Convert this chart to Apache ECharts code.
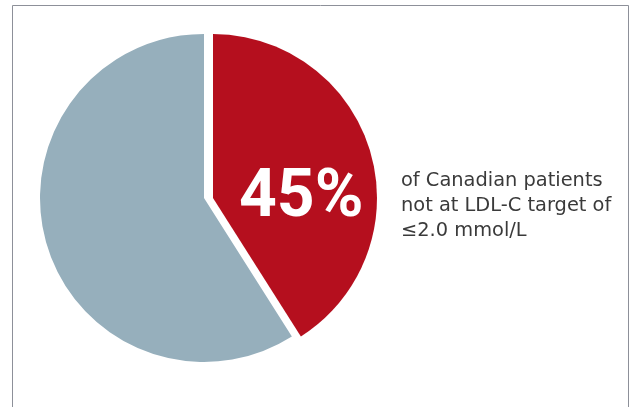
<!DOCTYPE html>
<html>
<head>
<meta charset="utf-8">
<script src="https://cdn.jsdelivr.net/npm/echarts@6/dist/echarts.min.js"></script>
<style>
html,body{margin:0;padding:0;background:#fff;}
#c{width:633px;height:407px;}
</style>
</head>
<body>
<div id="c"></div>
<script>
var categories = ['Not at LDL-C target', 'At LDL-C target'];
var values = [41, 59];
var bigLabel = '45%';
var captionLines = ['of Canadian patients', 'not at LDL-C target of', '\u22642.0 mmol/L'];

var RED = '#b50f1e';
var GRAY = '#96afbc';

function sliceData(showIndex, color) {
  return categories.map(function (name, i) {
    return {
      name: name,
      value: values[i],
      itemStyle: { color: i === showIndex ? color : 'rgba(0,0,0,0)' }
    };
  });
}

var captionStyle = function (y, t) {
  return {
    type: 'text',
    silent: true,
    style: { x: 401, y: y, text: t, fill: '#3a3a3a', font: '19.4px "DejaVu Sans"', verticalAlign: 'top' }
  };
};

var chart = echarts.init(document.getElementById('c'), null, { renderer: 'canvas' });
chart.setOption({
  animation: false,
  backgroundColor: '#ffffff',
  series: [
    {
      type: 'pie',
      silent: true,
      center: [204, 198],
      radius: 164,
      startAngle: 90,
      clockwise: true,
      label: { show: false },
      labelLine: { show: false },
      data: sliceData(1, GRAY)
    },
    {
      type: 'pie',
      silent: true,
      center: [213, 198],
      radius: 164,
      startAngle: 90,
      clockwise: true,
      label: { show: false },
      labelLine: { show: false },
      data: sliceData(0, RED)
    }
  ],
  graphic: [
    {
      type: 'polyline',
      silent: true,
      shape: { points: [[12.5, 407], [12.5, 5.5], [628.5, 5.5], [628.5, 407]] },
      style: { stroke: '#8d9099', lineWidth: 1, fill: null }
    },
    {
      type: 'text',
      silent: true,
      z: 10,
      style: {
        x: 239, y: 166,
        text: bigLabel,
        fill: '#ffffff',
        font: 'bold 66px Roboto',
        verticalAlign: 'top'
      }
    },
    captionStyle(171, captionLines[0]),
    captionStyle(196, captionLines[1]),
    captionStyle(221, captionLines[2])
  ]
});
</script>
</body>
</html>
